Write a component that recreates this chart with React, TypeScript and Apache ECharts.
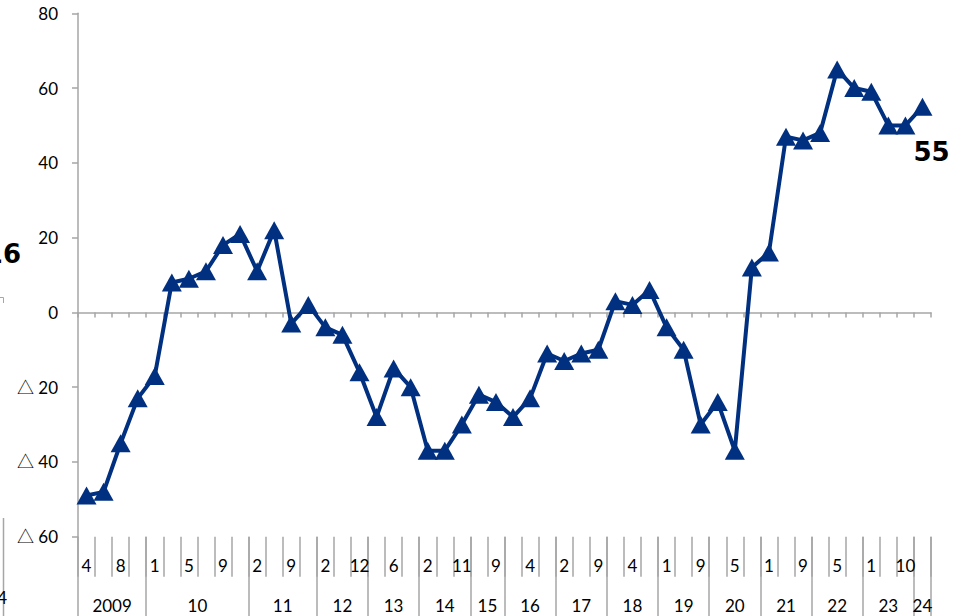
import React, { useEffect, useRef } from 'react';
import * as echarts from 'echarts';

// Survey DI values (one per survey, 2009/4 .. 2024)
const diValues = [
  -49, -48, -35, -23, -17, 8, 9, 11, 18, 21, 11, 22, -3, 2, -4, -6, -16, -28, -15, -20,
  -37, -37, -30, -22, -24, -28, -23, -11, -13, -11, -10, 3, 2, 6, -4, -10, -30, -24, -37, 12,
  16, 47, 46, 48, 65, 60, 59, 50, 50, 55,
];

// Month labels shown on the first row (blank where the chart shows none)
const monthLabels = [
  '4', '', '8', '', '1', '', '5', '', '9', '', '2', '', '9', '', '2', '', '12', '', '6', '',
  '2', '', '11', '', '9', '', '4', '', '2', '', '9', '', '4', '', '1', '', '9', '', '5', '',
  '1', '', '9', '', '5', '', '1', '', '10', '',
];

// Year row: label and number of surveys within each year
const yearLabels = ['2009', '10', '11', '12', '13', '14', '15', '16', '17', '18', '19', '20', '21', '22', '23', '24'];
const yearCounts = [4, 6, 4, 3, 3, 3, 2, 3, 3, 3, 3, 3, 3, 3, 3, 1];

const yTicks = { min: -60, max: 80, interval: 20 };

const NAVY = '#00307f';
const GRAY = '#a6a6a6';
const FONT = 'Lato, "Noto Sans CJK JP", "Noto Sans", sans-serif';

export default function App() {
  const ref = useRef<HTMLDivElement>(null);

  useEffect(() => {
    if (!ref.current) return;
    const chart = echarts.init(ref.current, undefined, { renderer: 'svg' });

    const boundaries: number[] = [0];
    yearCounts.forEach((c) => boundaries.push(boundaries[boundaries.length - 1] + c));
    const yearCenters = yearCounts.map((c, i) => boundaries[i] + c / 2);
    const N = diValues.length;
    const last = N - 1;

    const axisLineStyle = { color: GRAY, width: 1.5 };

    const seriesData = diValues.map((v, i) =>
      i === last
        ? {
            value: v,
            label: {
              show: true,
              position: 'inside',
              offset: [9, 45],
              formatter: String(v),
              fontFamily: '"DejaVu Sans", sans-serif',
              fontWeight: 'bold',
              fontSize: 26,
              color: '#000',
            },
          }
        : v
    );

    const option: any = {
      animation: false,
      grid: { left: 78, right: 24, top: 13.3, bottom: 79.3, containLabel: false },
      xAxis: [
        {
          type: 'category',
          data: monthLabels,
          position: 'bottom',
          boundaryGap: true,
          axisLine: { show: true, onZero: true, lineStyle: axisLineStyle },
          axisTick: { show: true, interval: 0, length: 5, lineStyle: axisLineStyle },
          axisLabel: { show: false },
          splitLine: { show: false },
        },
        {
          type: 'category',
          data: monthLabels,
          position: 'bottom',
          boundaryGap: true,
          axisLine: { show: false, onZero: false },
          axisTick: { show: true, interval: 0, length: 40, lineStyle: axisLineStyle },
          axisLabel: {
            show: true,
            interval: 0,
            margin: 20,
            fontSize: 17,
            fontFamily: FONT,
            color: '#000',
          },
          splitLine: { show: false },
        },
        {
          type: 'value',
          min: 0,
          max: N,
          position: 'bottom',
          axisLine: { show: false, onZero: false },
          axisTick: { show: true, customValues: boundaries, length: 80, lineStyle: axisLineStyle },
          axisLabel: {
            show: true,
            customValues: yearCenters,
            formatter: (v: number) => {
              const k = yearCenters.indexOf(v);
              return k >= 0 ? yearLabels[k] : '';
            },
            margin: 60,
            fontSize: 17,
            fontFamily: FONT,
            color: '#000',
          },
          splitLine: { show: false },
        },
      ],
      yAxis: {
        type: 'value',
        min: yTicks.min,
        max: yTicks.max,
        interval: yTicks.interval,
        axisLine: { show: true, onZero: false, lineStyle: axisLineStyle },
        axisTick: { show: true, length: 6, lineStyle: axisLineStyle },
        axisLabel: {
          margin: 20,
          fontSize: 17,
          fontFamily: FONT,
          color: '#000',
          formatter: (v: number) => (v < 0 ? '△ ' + -v : String(v)),
        },
        splitLine: { show: false },
      },
      series: [
        {
          type: 'line',
          xAxisIndex: 0,
          yAxisIndex: 0,
          data: seriesData,
          symbol: 'triangle',
          symbolSize: [20, 18],
          showAllSymbol: true,
          lineStyle: { color: NAVY, width: 4 },
          itemStyle: { color: NAVY },
          z: 3,
        },
      ],
      graphic: [
        // fragments of the neighbouring chart cut off at the left edge
        {
          type: 'text',
          style: {
            text: '16',
            x: 21,
            y: 254,
            align: 'right',
            verticalAlign: 'middle',
            font: 'bold 26px "DejaVu Sans", sans-serif',
            fill: '#000',
          },
        },
        {
          type: 'polyline',
          shape: { points: [[0, 297.5], [3.5, 297.5], [3.5, 303]] },
          style: { stroke: GRAY, lineWidth: 1, fill: 'none' },
        },
        {
          type: 'line',
          shape: { x1: 3.5, y1: 518, x2: 3.5, y2: 616 },
          style: { stroke: GRAY, lineWidth: 1.5 },
        },
        {
          type: 'text',
          style: {
            text: '4',
            x: 7,
            y: 597,
            align: 'right',
            verticalAlign: 'middle',
            font: '17px Lato, "Noto Sans", sans-serif',
            fill: '#000',
          },
        },
      ],
    };

    chart.setOption(option);
    return () => chart.dispose();
  }, []);

  return (
    <div
      ref={ref}
      style={{ position: 'fixed', left: 0, top: 0, width: 955, height: 616, background: '#fff' }}
    />
  );
}
